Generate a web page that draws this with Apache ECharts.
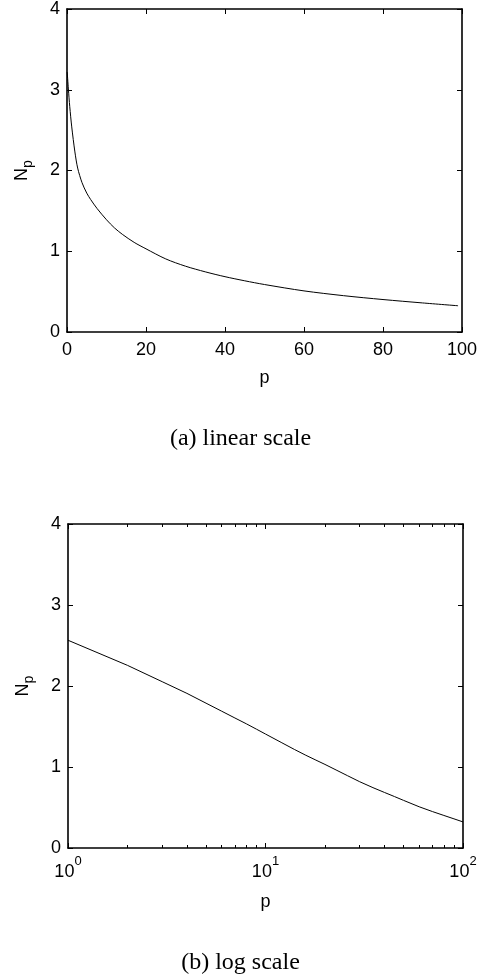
<!DOCTYPE html>
<html>
<head>
<meta charset="utf-8">
<script src="https://cdn.jsdelivr.net/npm/echarts@6/dist/echarts.min.js"></script>
<style>
  html, body { margin: 0; padding: 0; background: #fff; }
  #chart { width: 481px; height: 980px; }
</style>
</head>
<body>
<div id="chart"></div>
<script>
// N_p against p, linear axis (upper panel)
const pLinear = [0.05, 0.35, 0.7, 1.2, 2, 2.7, 3.8, 5, 6, 7.6, 10, 12, 14, 17, 20, 25, 30, 35, 40, 45, 50, 60, 70, 80, 90, 99];
const nLinear = [3.22, 3.01, 2.79, 2.54, 2.23, 2.03, 1.85, 1.72, 1.64, 1.53, 1.39, 1.29, 1.21, 1.11, 1.03, 0.905, 0.815, 0.745, 0.685, 0.634, 0.588, 0.509, 0.45, 0.402, 0.36, 0.325];

// N_p against p, logarithmic axis (lower panel)
const pLog = [1, 2, 3, 4, 5, 6, 7, 8, 9, 10, 12, 14, 16, 18, 20, 23, 26, 30, 35, 40, 45, 50, 60, 70, 80, 90, 100];
const nLog = [2.565, 2.255, 2.053, 1.909, 1.788, 1.689, 1.605, 1.533, 1.467, 1.407, 1.304, 1.217, 1.145, 1.085, 1.032, 0.958, 0.893, 0.818, 0.745, 0.686, 0.635, 0.588, 0.509, 0.45, 0.402, 0.36, 0.322];

// tick positions
const linearTicks = [0, 20, 40, 60, 80, 100];
const yTicks = [0, 1, 2, 3, 4];
const logMajor = [1, 10, 100];
const logMinor = [2, 3, 4, 5, 6, 7, 8, 9, 20, 30, 40, 50, 60, 70, 80, 90];

const captions = ['(a) linear scale', '(b) log scale'];

const FONT = 'Liberation Sans, Arial, Helvetica, sans-serif';
const SERIF = 'Liberation Serif, Times New Roman, serif';
const INK = '#000';

function frameLine(show) {
  return { show: show, onZero: false, lineStyle: { color: INK, width: 1.6 } };
}
function ticks(values, len) {
  return { show: true, inside: true, length: len, customValues: values, lineStyle: { color: INK, width: 1 } };
}
const noLabel = { show: false };
const noSplit = { show: false };

const yName = {
  name: '{n|N}{s|p}',
  nameLocation: 'middle',
  nameRotate: 90,
  nameGap: 32,
  nameTextStyle: {
    rich: {
      n: { fontFamily: FONT, fontSize: 18, color: INK, verticalAlign: 'top', lineHeight: 22 },
      s: { fontFamily: FONT, fontSize: 14, color: INK, verticalAlign: 'bottom', lineHeight: 22, padding: [9, 0, 0, 0] }
    }
  }
};

function yPair(gridIndex) {
  return [
    Object.assign({
      type: 'value', gridIndex, position: 'left', min: 0, max: 4, interval: 1,
      axisLine: frameLine(true), axisTick: ticks(yTicks, 5),
      axisLabel: { show: true, customValues: yTicks, margin: 7, color: INK, fontFamily: FONT, fontSize: 18 },
      splitLine: noSplit
    }, yName),
    {
      type: 'value', gridIndex, position: 'right', min: 0, max: 4, interval: 1,
      axisLine: frameLine(true), axisTick: ticks(yTicks, 5), axisLabel: noLabel, splitLine: noSplit
    }
  ];
}

const xNameStyle = { fontFamily: FONT, fontSize: 18, color: INK };
const captionStyle = { fontFamily: SERIF, fontWeight: 'normal', fontSize: 24, color: INK, lineHeight: 24 };

const option = {
  animation: false,
  backgroundColor: '#fff',
  title: [
    { text: captions[0], left: 'center', top: 427, padding: 0, textStyle: captionStyle },
    { text: captions[1], left: 'center', top: 951, padding: 0, textStyle: captionStyle }
  ],
  grid: [
    { left: 67, top: 9, width: 395, height: 323 },
    { left: 68, top: 524, width: 395, height: 324 }
  ],
  xAxis: [
    // upper panel, bottom edge
    { type: 'value', gridIndex: 0, position: 'bottom', min: 0, max: 100, interval: 20,
      axisLine: frameLine(true), axisTick: ticks(linearTicks, 5),
      axisLabel: { show: true, margin: 9, color: INK, fontFamily: FONT, fontSize: 18 },
      splitLine: noSplit,
      name: 'p', nameLocation: 'middle', nameGap: 37, nameTextStyle: xNameStyle },
    // upper panel, top edge
    { type: 'value', gridIndex: 0, position: 'top', min: 0, max: 100, interval: 20,
      axisLine: frameLine(true), axisTick: ticks(linearTicks, 5), axisLabel: noLabel, splitLine: noSplit },
    // lower panel, bottom edge: decades with labels
    { type: 'log', logBase: 10, gridIndex: 1, position: 'bottom', min: 1, max: 100,
      axisLine: frameLine(true), axisTick: ticks(logMajor, 5),
      axisLabel: {
        show: true, customValues: logMajor, margin: 7,
        formatter: v => '{b|10}{s|' + Math.round(Math.log10(v)) + '}',
        rich: {
          b: { fontFamily: FONT, fontSize: 18, color: INK, lineHeight: 26, verticalAlign: 'bottom' },
          s: { fontFamily: FONT, fontSize: 13, color: INK, lineHeight: 26, verticalAlign: 'top' }
        }
      },
      splitLine: noSplit,
      name: 'p', nameLocation: 'middle', nameGap: 45, nameTextStyle: xNameStyle },
    // lower panel, bottom edge: minor ticks
    { type: 'log', logBase: 10, gridIndex: 1, position: 'bottom', min: 1, max: 100,
      axisLine: frameLine(false), axisTick: ticks(logMinor, 3), axisLabel: noLabel, splitLine: noSplit },
    // lower panel, top edge: decades
    { type: 'log', logBase: 10, gridIndex: 1, position: 'top', min: 1, max: 100,
      axisLine: frameLine(true), axisTick: ticks(logMajor, 5), axisLabel: noLabel, splitLine: noSplit },
    // lower panel, top edge: minor ticks
    { type: 'log', logBase: 10, gridIndex: 1, position: 'top', min: 1, max: 100,
      axisLine: frameLine(false), axisTick: ticks(logMinor, 3), axisLabel: noLabel, splitLine: noSplit }
  ],
  yAxis: yPair(0).concat(yPair(1)),
  series: [
    { type: 'line', xAxisIndex: 0, yAxisIndex: 0, showSymbol: false, symbol: 'none',
      smooth: 0.3,
      lineStyle: { color: INK, width: 1 },
      data: pLinear.map((p, i) => [p, nLinear[i]]) },
    { type: 'line', xAxisIndex: 2, yAxisIndex: 2, showSymbol: false, symbol: 'none',
      lineStyle: { color: INK, width: 1 },
      data: pLog.map((p, i) => [p, nLog[i]]) }
  ]
};

const chart = echarts.init(document.getElementById('chart'), null, { renderer: 'canvas' });
chart.setOption(option);
</script>
</body>
</html>
